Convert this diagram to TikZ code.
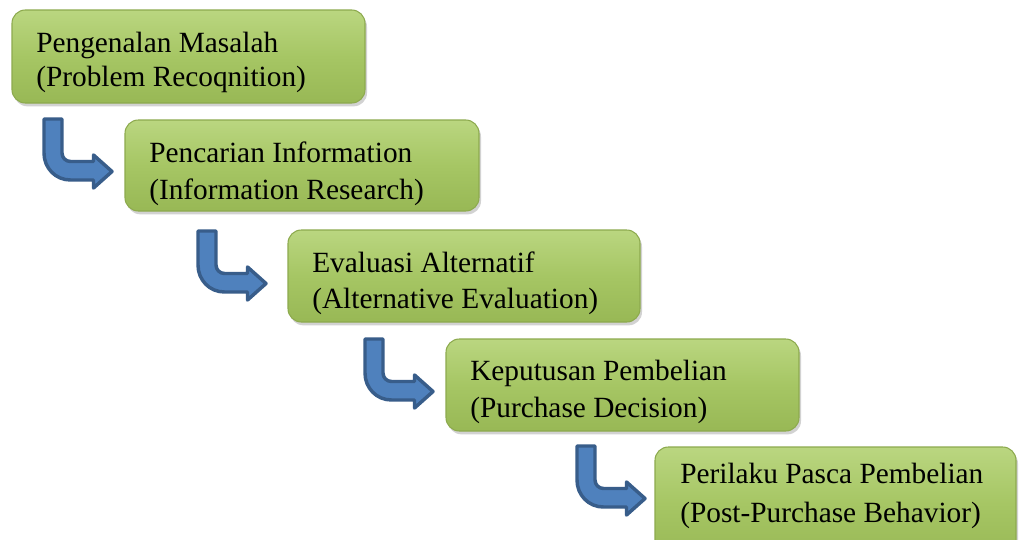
\documentclass[tikz,border=0pt]{standalone}
\usepackage{fontspec}
\setmainfont{Liberation Serif}
\usetikzlibrary{shadows}
\definecolor{boxtop}{HTML}{BAD680}
\definecolor{boxmid}{HTML}{A6C664}
\definecolor{boxbot}{HTML}{98B855}
\definecolor{boxline}{HTML}{8DAA4E}
\definecolor{arrfill}{HTML}{4F81BD}
\definecolor{arrline}{HTML}{385D8A}
\tikzset{
  stagebox/.style={draw=boxline, line width=0.8pt, rounded corners=10pt,
    top color=boxtop, bottom color=boxbot, middle color=boxmid,
    drop shadow={opacity=0.35, shadow xshift=1.5pt, shadow yshift=-2.5pt}},
  stagetext/.style={anchor=base west, inner sep=0pt, font=\fontsize{22}{27}\selectfont},
  bendarrow/.pic={
    \path[fill=arrfill, draw=arrline, line width=2.6pt, line join=round]
      (2,2) -- (20,2) -- (20,36)
      .. controls (20,40.7) and (23.8,44.5) .. (28.5,44.5)
      -- (51.5,44.5) -- (51.5,38) -- (70,54.5) -- (51.5,71) -- (51.5,63)
      -- (28.5,63) .. controls (13.5,63) and (2,51) .. (2,36) -- cycle;
  }
}
\begin{document}
\begin{tikzpicture}[x=0.75pt,y=-0.75pt]
\useasboundingbox (0,0) rectangle (1019,539);
\clip (0,0) rectangle (1019,539);
\fill[white] (0,0) rectangle (1019,539);
% boxes
\path[stagebox] (12,10) rectangle (365,103);
\coordinate (b1) at (12,10);
\path[stagebox] (125,120) rectangle (479,211);
\coordinate (b2) at (125,120);
\path[stagebox] (288,230) rectangle (640,322);
\coordinate (b3) at (288,230);
\path[stagebox] (446,339) rectangle (799,431);
\coordinate (b4) at (446,339);
\path[stagebox] (655,447) rectangle (1016,560);
\coordinate (b5) at (655,447);
% texts
\node[stagetext] (t1a) at (36,52) {Pengenalan Masalah};
\node[stagetext] (t1b) at (36,86) {(Problem Recoqnition)};
\node[stagetext] (t2a) at (149,162) {Pencarian Information};
\node[stagetext] (t2b) at (149,199) {(Information Research)};
\node[stagetext] (t3a) at (312,272) {Evaluasi Alternatif};
\node[stagetext] (t3b) at (312,308) {(Alternative Evaluation)};
\node[stagetext] (t4a) at (470,380) {Keputusan Pembelian};
\node[stagetext] (t4b) at (470,417) {(Purchase Decision)};
\node[stagetext] (t5a) at (680,483) {Perilaku Pasca Pembelian};
\node[stagetext] (t5b) at (680,522) {(Post-Purchase Behavior)};
% arrows
\pic at (42,117) {bendarrow};
\pic at (196,229) {bendarrow};
\pic at (363,337) {bendarrow};
\pic at (575,444) {bendarrow};
\end{tikzpicture}
\end{document}
